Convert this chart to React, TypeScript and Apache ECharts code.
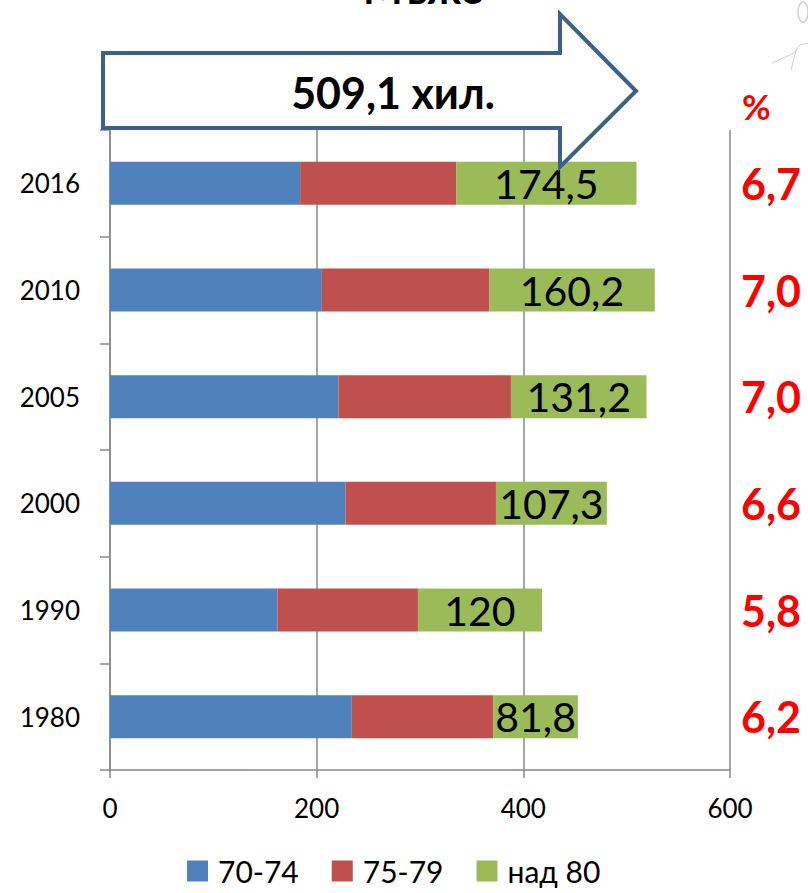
import React, { useEffect, useRef } from "react";
import * as echarts from "echarts";

const categories = ["1980", "1990", "2000", "2005", "2010", "2016"];
const seriesNames = ["70-74", "75-79", "над 80"];
const age7074 = [234, 162, 228, 221, 205, 184];
const age7579 = [137, 136, 145.5, 167, 162, 151];
const age80plus = [81.8, 120, 107.3, 131.2, 160.2, 174.5];
const percentLabels = ["6,2", "5,8", "6,6", "7,0", "7,0", "6,7"];
const xTicks = { min: 0, max: 600, interval: 200 };
const titleText = "Мъже";
const totalText = "509,1 хил.";

const FONT = "Lato, 'Noto Sans', sans-serif";
const colors = ["#4F81BD", "#C0504D", "#9BBB59"];

export default function App() {
  const ref = useRef<HTMLDivElement>(null);
  useEffect(() => {
    if (!ref.current) return;
    const chart = echarts.init(ref.current, undefined, { renderer: "svg" });
    const fmt = (v: number) => String(v).replace(".", ",");
    chart.setOption({
      animation: false,
      color: colors,
      textStyle: { fontFamily: FONT },
      grid: { left: 110, right: 78, top: 130, bottom: 123, containLabel: false },
      legend: {
        left: 182,
        top: 851,
        icon: "rect",
        itemWidth: 21,
        itemHeight: 21,
        itemGap: 33,
        textStyle: { fontSize: 30, color: "#000", fontFamily: FONT, padding: [0, 0, 0, 5] },
        data: seriesNames,
      },
      xAxis: {
        type: "value",
        min: xTicks.min,
        max: xTicks.max,
        interval: xTicks.interval,
        axisLine: { show: true, lineStyle: { color: "#888", width: 1.5 } },
        axisTick: { show: true, length: 8, lineStyle: { color: "#888", width: 1.5 } },
        axisLabel: { fontSize: 26, color: "#000", margin: 25, fontFamily: FONT },
        splitLine: { show: true, lineStyle: { color: "#888", width: 1.5 } },
      },
      yAxis: [
        {
          type: "category",
          data: categories,
          axisLine: { show: true, lineStyle: { color: "#888", width: 1.5 } },
          axisTick: { show: true, length: 10, lineStyle: { color: "#888", width: 1.5 } },
          axisLabel: { fontSize: 26, color: "#000", margin: 30, fontFamily: FONT },
        },
        {
          type: "category",
          position: "right",
          data: percentLabels,
          axisLine: { show: false },
          axisTick: { show: false },
          axisLabel: {
            fontSize: 43,
            fontWeight: "bold",
            color: "#FF0000",
            margin: 11,
            fontFamily: FONT,
          },
        },
      ],
      series: [
        { name: seriesNames[0], type: "bar", stack: "a", data: age7074, barWidth: 43 },
        { name: seriesNames[1], type: "bar", stack: "a", data: age7579, barWidth: 43 },
        {
          name: seriesNames[2],
          type: "bar",
          stack: "a",
          data: age80plus,
          barWidth: 43,
          label: {
            show: true,
            position: "inside",
            fontSize: 41,
            color: "#000",
            fontFamily: FONT,
            formatter: (p: any) => fmt(p.value),
          },
        },
      ],
      graphic: [
        {
          type: "polygon",
          z: 100,
          shape: {
            points: [
              [103, 53],
              [560, 53],
              [560, 14],
              [636, 91],
              [560, 167],
              [560, 128],
              [103, 128],
            ],
          },
          style: { fill: "#fff", stroke: "#3D5F8C", lineWidth: 4 },
        },
        {
          type: "text",
          z: 101,
          x: 393,
          y: 92,
          style: {
            text: totalText,
            fontSize: 43,
            fontWeight: "bold",
            fill: "#000",
            fontFamily: FONT,
            align: "center",
            verticalAlign: "middle",
          },
        },
        {
          type: "text",
          z: 101,
          x: 423,
          y: -12,
          style: {
            text: titleText,
            fontSize: 42,
            fontWeight: "bold",
            fill: "#000",
            fontFamily: FONT,
            align: "center",
            verticalAlign: "middle",
          },
        },
        {
          type: "text",
          z: 101,
          x: 742,
          y: 106,
          style: {
            text: "%",
            fontSize: 35,
            fontWeight: "bold",
            fill: "#FF0000",
            fontFamily: FONT,
            align: "left",
            verticalAlign: "middle",
          },
        },
        {
          type: "polyline",
          z: 50,
          shape: { points: [[772, 63], [794, 53], [800, 45], [808, 43]] },
          style: { stroke: "#d0d0d0", lineWidth: 1, fill: "none" },
        },
        {
          type: "polyline",
          z: 50,
          shape: { points: [[791, 70], [796, 50]] },
          style: { stroke: "#d0d0d0", lineWidth: 1, fill: "none" },
        },
        {
          type: "ellipse",
          z: 50,
          shape: { cx: 803, cy: 12, rx: 5, ry: 10 },
          style: { stroke: "#d0d0d0", lineWidth: 1.5, fill: "none" },
        },
      ],
    });
    return () => chart.dispose();
  }, []);
  return <div ref={ref} style={{ width: 808, height: 893, position: "absolute", left: 0, top: 0 }} />;
}
